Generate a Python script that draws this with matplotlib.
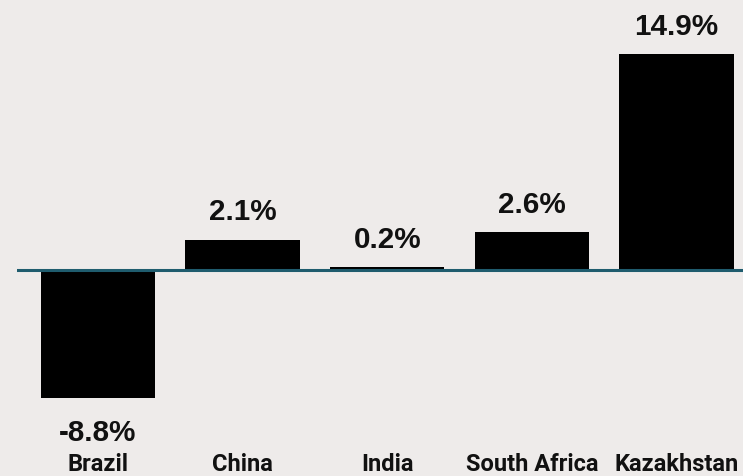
import matplotlib
matplotlib.use("Agg")
import matplotlib.pyplot as plt
from matplotlib import font_manager

countries = ["Brazil", "China", "India", "South Africa", "Kazakhstan"]
changes = [-8.8, 2.1, 0.2, 2.6, 14.9]
value_labels = ["-8.8%", "2.1%", "0.2%", "2.6%", "14.9%"]

BG = "#EEEBEA"
BAR = "#000000"
ZERO = "#1F5C6E"

installed = {f.name for f in font_manager.fontManager.ttflist}
cat_family = ["Liberation Sans Narrow"] if "Liberation Sans Narrow" in installed else ["Roboto"]
val_family = ["Liberation Sans", "DejaVu Sans"]

fig = plt.figure(figsize=(7.43, 4.76), dpi=100, facecolor=BG)
ax = fig.add_axes([17 / 743, 0, 1 - 17 / 743, 1])
ax.set_facecolor(BG)

x = list(range(len(countries)))
ax.bar(x, changes, width=0.79, color=BAR, zorder=2)
ax.axhline(0, color=ZERO, lw=2.2, zorder=3)

ax.set_xlim(-0.56, 4.46)
ax.set_ylim(-14.2, 18.62)

# value labels: baseline a fixed distance beyond the bar end
for xi, v, lab in zip(x, changes, value_labels):
    off = 14 if v >= 0 else -31
    ax.annotate(lab, (xi, v), xytext=(0, off), textcoords="offset points",
                ha="center", va="baseline", fontsize=21.3, fontweight="bold",
                family=val_family, color="#111111")

tr = ax.get_xaxis_transform()
for xi, name in zip(x, countries):
    ax.text(xi, 5 / 476, name, transform=tr, ha="center", va="baseline",
            fontsize=17, fontweight="bold", family=cat_family, color="#111111")

ax.axis("off")
fig.savefig("out.png", dpi=100, facecolor=BG)
